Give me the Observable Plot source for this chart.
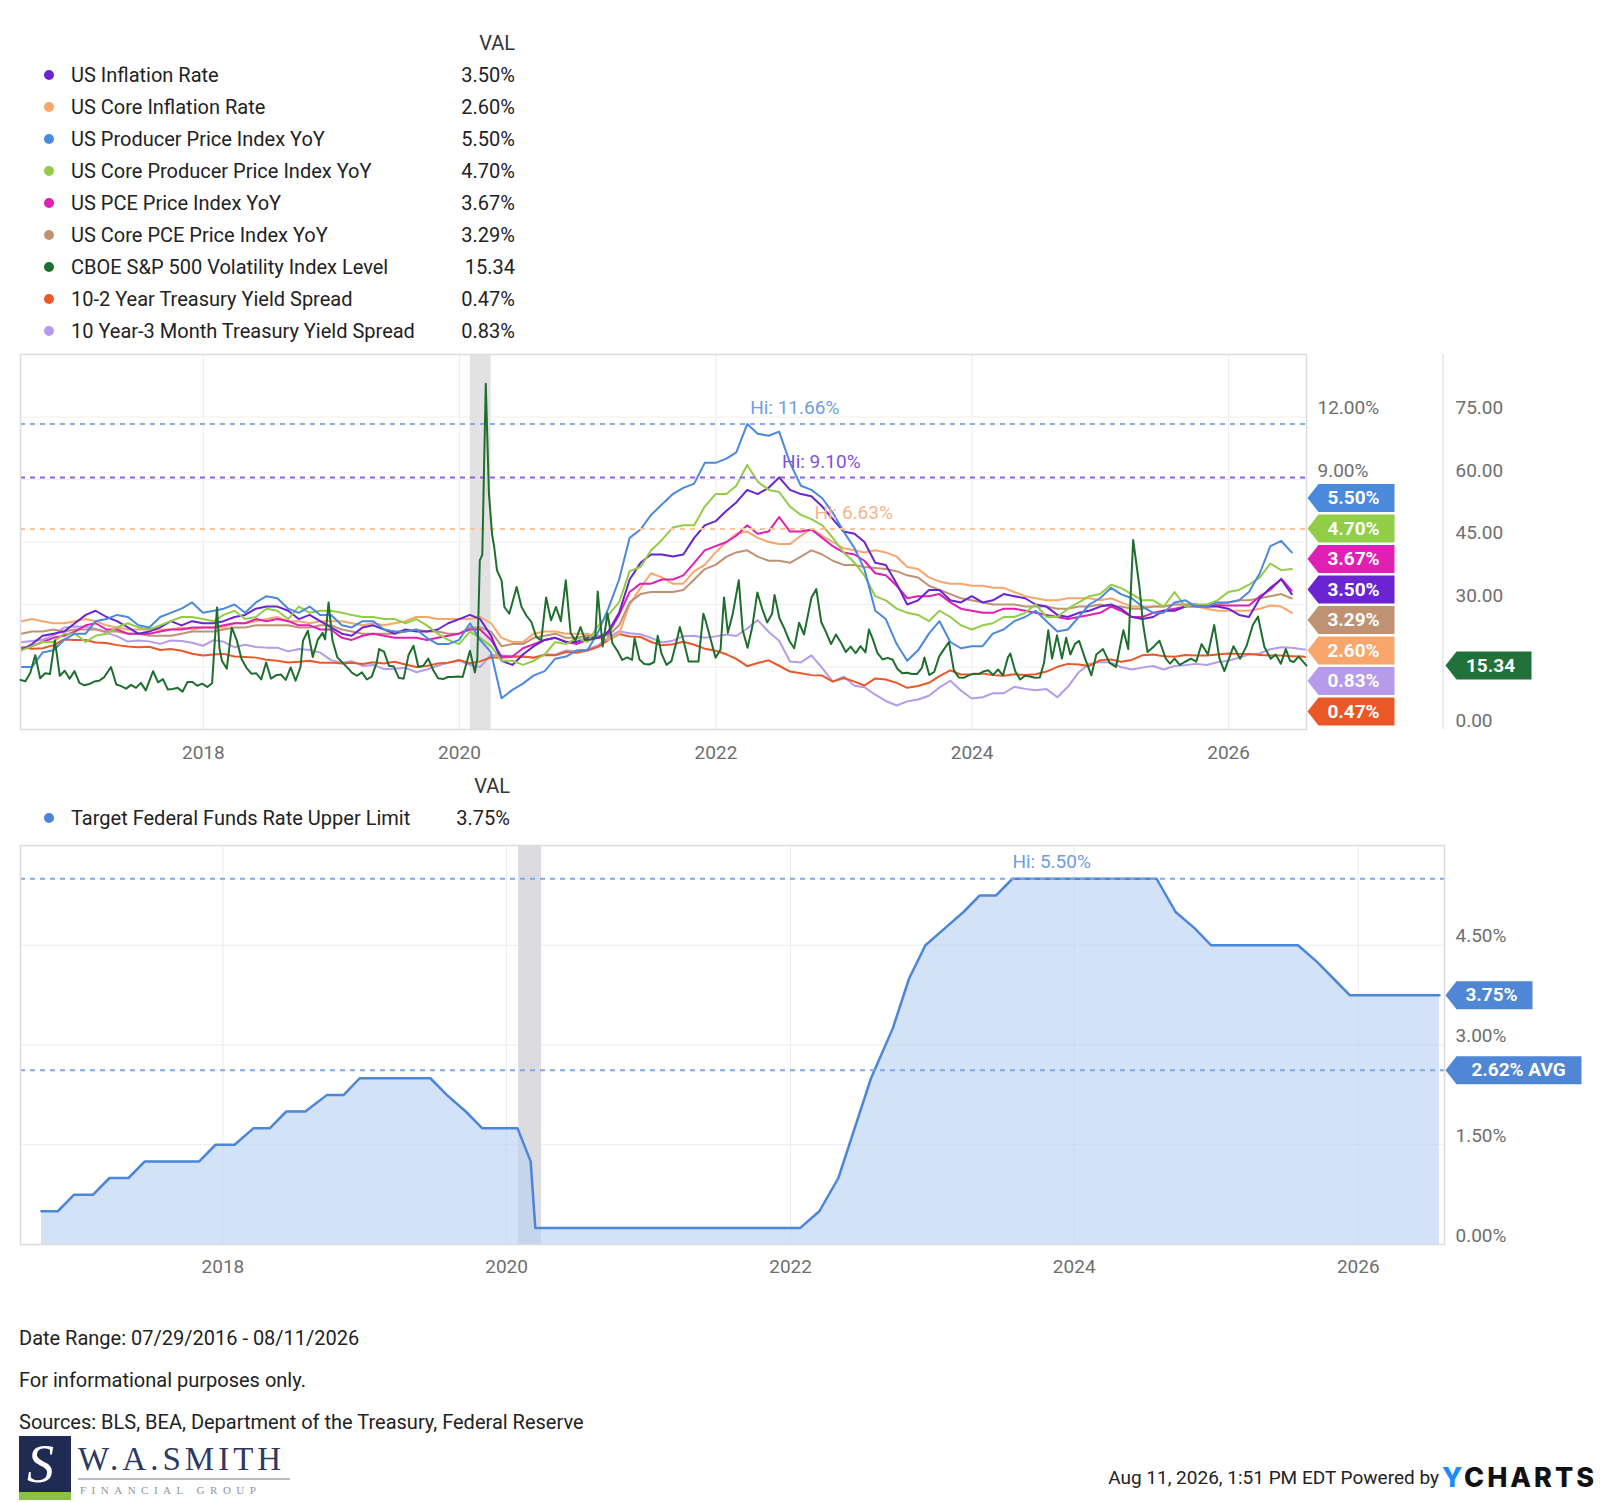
<!DOCTYPE html>
<html>
<head>
<meta charset="utf-8">
<script src="https://cdn.jsdelivr.net/npm/d3@7"></script>
<script src="https://cdn.jsdelivr.net/npm/@observablehq/plot@0.6"></script>
<style>
  html, body { margin: 0; padding: 0; background: #fff; }
  body { width: 1600px; height: 1502px; position: relative; overflow: hidden; font-family: Roboto, "Open Sans", sans-serif; }
  .abs { position: absolute; }
</style>
</head>
<body>
<script>
// ---------------- DATA ----------------
const dateStart = "2016-07-29";
const dateEnd = "2026-08-11";

// monthly YoY series, Jul 2016 .. Jun 2026 (month-end)
const cpi = [
  0.8,1.1,1.5,1.6,1.7,2.1,
  2.5,2.7,2.4,2.2,1.9,1.6,1.7,1.9,2.2,2.0,2.2,2.1,
  2.1,2.2,2.4,2.5,2.8,2.9,2.9,2.7,2.3,2.5,2.2,1.9,
  1.6,1.5,1.9,2.0,1.8,1.6,1.8,1.7,1.7,1.8,2.1,2.3,
  2.5,2.3,1.5,0.3,0.1,0.6,1.0,1.3,1.4,1.2,1.2,1.4,
  1.4,1.7,2.6,4.2,5.0,5.4,5.4,5.3,5.4,6.2,6.8,7.0,
  7.5,7.9,8.5,8.3,8.6,9.1,8.5,8.3,8.2,7.7,7.1,6.5,
  6.4,6.0,5.0,4.9,4.0,3.0,3.2,3.7,3.7,3.2,3.1,3.4,
  3.1,3.2,3.5,3.4,3.3,3.0,2.9,2.5,2.4,2.6,2.7,2.9,
  3.0,2.8,2.4,2.3,2.4,2.7,2.7,2.9,3.0,2.9,2.9,2.8,
  2.5,2.4,3.3,3.8,4.2,3.5
];
const coreCpi = [
  2.2,2.3,2.2,2.1,2.1,2.2,
  2.3,2.2,2.0,1.9,1.8,1.8,1.8,1.8,1.8,1.9,1.8,1.9,
  1.9,1.9,2.1,2.1,2.2,2.3,2.4,2.2,2.2,2.1,2.2,2.2,
  2.2,2.1,2.0,2.1,2.0,2.1,2.2,2.4,2.4,2.3,2.3,2.3,
  2.3,2.4,2.1,1.4,1.2,1.2,1.6,1.7,1.7,1.6,1.6,1.6,
  1.4,1.3,1.6,3.0,3.8,4.5,4.3,4.0,4.0,4.6,4.9,5.5,
  6.0,6.4,6.5,6.2,6.0,5.9,5.9,6.3,6.63,6.3,6.0,5.7,
  5.6,5.5,5.6,5.5,5.3,4.8,4.7,4.3,4.1,4.0,4.0,3.9,
  3.9,3.8,3.8,3.6,3.4,3.3,3.2,3.2,3.3,3.3,3.3,3.2,
  3.3,3.1,2.9,2.9,2.9,2.9,3.0,3.0,2.9,2.8,2.7,2.7,
  2.7,2.7,2.8,2.95,2.9,2.6
];
const ppi = [
  0.0,0.0,0.7,0.8,1.3,1.6,
  1.6,2.2,2.3,2.5,2.4,2.0,1.9,2.4,2.6,2.8,3.1,2.6,
  2.7,2.8,3.0,2.6,3.1,3.4,3.3,2.8,2.6,2.9,2.5,2.5,
  2.0,1.9,2.2,2.2,1.8,1.7,1.7,1.8,1.4,1.1,1.1,1.3,
  2.1,1.3,0.7,-1.5,-1.1,-0.8,-0.4,-0.2,0.4,0.5,0.8,0.8,
  1.7,2.8,4.2,6.2,6.6,7.3,7.8,8.3,8.6,8.8,9.8,9.8,
  10.0,10.3,11.66,11.2,11.1,11.3,9.8,8.7,8.5,8.1,7.4,6.5,
  5.7,4.7,2.7,2.3,1.1,0.3,0.8,1.6,2.2,1.2,0.9,1.0,
  1.0,1.6,1.8,2.2,2.4,2.7,2.2,1.7,1.8,2.4,3.0,3.3,
  3.8,3.5,3.3,2.9,2.6,2.6,3.1,3.2,2.9,2.9,3.1,3.1,
  3.2,3.6,4.5,5.8,6.05,5.5
];
const corePpi = [
  0.8,1.0,1.2,1.2,1.6,1.6,
  1.2,1.5,1.6,1.9,2.1,1.9,1.8,2.0,2.2,2.4,2.4,2.3,
  2.2,2.5,2.7,2.3,2.4,2.8,2.7,2.3,2.9,2.6,2.7,2.7,
  2.6,2.5,2.4,2.4,2.3,2.3,2.1,2.3,2.0,1.6,1.3,1.1,
  1.7,1.4,1.0,0.3,0.3,0.1,0.3,0.6,1.2,1.1,1.4,1.2,
  2.0,2.5,3.1,4.6,4.8,5.6,6.1,6.7,6.8,6.8,7.7,8.3,
  8.3,8.7,9.7,8.9,8.5,8.4,7.7,7.3,7.1,6.8,6.2,5.5,
  5.0,4.4,3.4,3.2,2.8,2.6,2.5,2.2,2.7,2.4,2.0,1.8,
  2.0,2.1,2.4,2.4,2.6,3.0,2.4,2.4,2.8,3.1,3.4,3.5,
  3.95,3.8,3.5,3.2,3.2,2.9,3.6,2.9,3.0,3.0,3.2,3.6,
  3.7,3.95,4.3,4.96,4.65,4.7
];
const pce = [
  0.9,1.0,1.2,1.4,1.5,1.7,
  2.0,2.1,1.8,1.8,1.6,1.6,1.6,1.7,1.8,1.8,1.9,1.9,
  1.9,2.0,2.1,2.1,2.3,2.2,2.3,2.2,2.0,2.0,1.8,1.8,
  1.4,1.3,1.5,1.6,1.5,1.4,1.4,1.4,1.3,1.4,1.5,1.6,
  1.8,1.8,1.3,0.5,0.5,0.9,1.1,1.3,1.4,1.2,1.1,1.3,
  1.4,1.6,2.5,3.6,4.0,4.0,4.2,4.2,4.4,5.0,5.6,5.8,
  6.0,6.3,6.8,6.4,6.5,7.2,6.5,6.5,6.6,6.2,5.8,5.5,
  5.4,5.1,4.5,4.4,3.9,3.3,3.4,3.4,3.5,3.1,2.8,2.7,
  2.6,2.6,2.8,2.8,2.7,2.6,2.5,2.4,2.3,2.4,2.5,2.6,
  2.9,2.7,2.4,2.4,2.6,2.7,2.8,2.9,2.9,2.9,2.95,2.95,
  2.95,2.95,3.4,3.7,4.24,3.67
];
const corePce = [
  1.6,1.7,1.7,1.8,1.7,1.8,
  1.8,1.8,1.7,1.7,1.6,1.6,1.5,1.5,1.5,1.6,1.7,1.7,
  1.7,1.8,1.9,1.9,2.0,2.0,2.0,2.0,1.9,1.9,2.0,2.0,
  1.8,1.7,1.6,1.6,1.6,1.6,1.7,1.8,1.7,1.7,1.6,1.6,
  1.9,1.9,1.7,1.0,1.1,1.1,1.4,1.5,1.6,1.4,1.4,1.5,
  1.5,1.5,2.0,3.1,3.5,3.6,3.6,3.6,3.7,4.2,4.7,4.9,
  5.3,5.5,5.6,5.3,5.1,5.1,5.0,5.3,5.6,5.4,5.1,4.9,
  4.9,4.8,4.75,4.7,4.6,4.4,4.3,3.9,3.7,3.5,3.3,3.2,
  3.1,3.0,3.0,3.0,2.9,2.9,2.9,2.8,2.8,2.9,2.9,3.0,
  2.9,2.9,2.8,2.8,2.9,2.9,3.0,3.0,3.0,2.9,3.0,3.1,
  3.2,3.2,3.3,3.4,3.5,3.29
];
// yield spreads, month-end Jul 2016 .. Jul 2026, then the last day
const spread102 = [
  0.95,0.88,0.90,1.05,1.32,1.30,
  1.30,1.18,1.15,1.05,0.98,0.95,0.97,0.82,0.86,0.78,0.64,0.55,
  0.60,0.63,0.50,0.48,0.45,0.35,0.30,0.22,0.25,0.30,0.20,0.21,
  0.17,0.20,0.14,0.23,0.17,0.25,0.12,0.00,0.05,0.17,0.21,0.34,
  0.18,0.27,0.47,0.44,0.49,0.50,0.44,0.58,0.56,0.72,0.68,0.79,
  0.97,1.29,1.58,1.46,1.44,1.20,1.04,1.09,1.21,1.07,0.88,0.78,
  0.61,0.39,0.04,0.19,0.32,0.06,-0.22,-0.30,-0.39,-0.41,-0.70,-0.53,
  -0.70,-0.89,-0.55,-0.60,-0.76,-1.00,-0.91,-0.76,-0.44,-0.16,-0.36,-0.35,
  -0.31,-0.39,-0.42,-0.35,-0.38,-0.35,-0.22,0.01,0.15,0.12,0.05,0.33,
  0.36,0.25,0.34,0.56,0.60,0.52,0.49,0.58,0.55,0.55,0.60,0.65,
  0.63,0.62,0.58,0.55,0.55,0.52,0.50,
  0.47
];
const spread103m = [
  1.19,1.25,1.31,1.52,1.89,1.94,
  1.93,1.83,1.64,1.48,1.22,1.27,1.23,1.11,1.27,1.25,1.16,1.02,
  1.29,1.21,0.95,1.07,0.96,0.93,0.93,0.75,0.86,0.82,0.69,0.33,
  0.21,0.28,0.05,0.10,-0.10,-0.08,-0.04,-0.25,-0.12,0.06,0.20,0.30,
  0.10,0.00,0.59,0.55,0.52,0.50,0.45,0.61,0.59,0.79,0.76,0.84,
  1.05,1.40,1.72,1.62,1.57,1.40,1.18,1.26,1.48,1.50,1.40,1.47,
  1.56,1.49,1.85,2.25,1.69,1.26,0.26,0.22,0.56,-0.05,-0.70,-0.46,
  -0.90,-0.97,-1.33,-1.63,-1.85,-1.65,-1.56,-1.38,-0.98,-0.66,-1.13,-1.51,
  -1.45,-1.26,-1.26,-0.95,-1.05,-1.12,-1.06,-1.45,-0.95,-0.25,0.15,0.24,
  0.21,0.00,-0.12,-0.03,0.05,-0.12,0.05,0.09,0.15,0.10,0.23,0.30,
  0.45,0.60,0.65,0.85,0.95,0.92,0.85,
  0.83
];
// CBOE VIX level [date, value]
const vix = [
["2016-07-29",11.9],["2016-08-12",11.6],["2016-08-26",13.6],["2016-09-09",17.8],["2016-09-23",12.3],["2016-10-07",13.5],["2016-10-21",13.3],["2016-11-04",21.4],["2016-11-18",12.9],["2016-12-02",14.1],["2016-12-16",12.2],["2016-12-30",14.0],
["2017-01-13",11.2],["2017-01-27",10.6],["2017-02-10",10.9],["2017-02-24",11.5],["2017-03-10",11.7],["2017-03-24",12.5],["2017-04-13",15.0],["2017-04-28",10.8],["2017-05-12",10.4],["2017-05-26",9.8],["2017-06-09",10.7],["2017-06-23",10.0],["2017-07-07",11.2],["2017-07-21",9.4],["2017-08-11",14.0],["2017-08-25",11.3],["2017-09-08",12.1],["2017-09-22",9.6],["2017-10-06",9.7],["2017-10-20",10.0],["2017-11-03",9.1],["2017-11-17",11.4],["2017-12-01",11.4],["2017-12-15",10.5],["2017-12-29",11.0],
["2018-01-12",10.2],["2018-01-26",11.1],["2018-02-09",29.3],["2018-02-16",19.5],["2018-02-23",16.5],["2018-03-09",14.6],["2018-03-23",24.5],["2018-04-06",21.5],["2018-04-20",16.9],["2018-05-04",14.8],["2018-05-18",13.4],["2018-06-01",13.5],["2018-06-15",12.0],["2018-06-29",16.1],["2018-07-13",12.2],["2018-07-27",13.0],["2018-08-10",13.2],["2018-08-24",11.9],["2018-09-07",14.9],["2018-09-21",11.7],["2018-10-05",15.0],["2018-10-12",21.3],["2018-10-26",23.7],["2018-11-09",17.4],["2018-11-23",21.5],["2018-12-07",23.2],["2018-12-14",21.6],["2018-12-24",30.5],
["2019-01-04",21.4],["2019-01-18",17.3],["2019-02-01",16.1],["2019-02-15",14.9],["2019-03-01",13.6],["2019-03-15",12.9],["2019-03-29",13.7],["2019-04-12",12.0],["2019-04-26",12.7],["2019-05-10",16.0],["2019-05-17",19.3],["2019-05-31",18.7],["2019-06-14",15.3],["2019-06-28",15.1],["2019-07-12",12.4],["2019-07-26",12.2],["2019-08-09",17.9],["2019-08-23",20.1],["2019-09-06",15.0],["2019-09-20",15.3],["2019-10-04",17.0],["2019-10-18",14.3],["2019-11-01",12.3],["2019-11-15",12.1],["2019-11-29",12.6],["2019-12-13",12.6],["2019-12-27",12.7],
["2020-01-10",12.6],["2020-01-31",18.9],["2020-02-14",13.7],["2020-02-21",17.1],["2020-02-28",40.6],["2020-03-06",41.9],["2020-03-16",83.0],["2020-03-25",56.6],["2020-04-03",46.8],["2020-04-09",43.8],["2020-04-17",38.2],["2020-04-30",35.8],["2020-05-08",29.4],["2020-05-22",27.8],["2020-06-12",34.2],["2020-06-26",29.4],["2020-07-10",27.3],["2020-07-24",25.8],["2020-08-07",22.2],["2020-08-21",21.4],["2020-09-04",31.7],["2020-09-18",26.2],["2020-10-02",29.4],["2020-10-16",26.0],["2020-10-30",35.8],["2020-11-13",23.1],["2020-11-27",21.4],["2020-12-11",24.6],["2020-12-24",21.5],
["2021-01-08",21.6],["2021-01-22",21.9],["2021-01-29",33.1],["2021-02-12",19.9],["2021-02-26",27.9],["2021-03-12",20.7],["2021-03-26",18.9],["2021-04-09",16.7],["2021-04-23",17.3],["2021-05-07",16.7],["2021-05-14",21.9],["2021-05-28",16.8],["2021-06-11",15.7],["2021-06-25",15.6],["2021-07-09",16.2],["2021-07-19",22.5],["2021-07-30",18.2],["2021-08-13",15.5],["2021-08-27",16.4],["2021-09-10",20.9],["2021-09-20",24.6],["2021-10-01",21.2],["2021-10-15",16.3],["2021-10-29",16.3],["2021-11-12",16.3],["2021-11-26",27.8],["2021-12-03",26.0],["2021-12-17",21.6],["2021-12-31",17.2],
["2022-01-14",19.2],["2022-01-24",31.7],["2022-02-04",23.2],["2022-02-18",27.8],["2022-03-07",35.8],["2022-03-18",23.9],["2022-04-01",19.6],["2022-04-14",24.4],["2022-04-29",32.9],["2022-05-13",28.9],["2022-05-27",25.7],["2022-06-10",27.8],["2022-06-17",32.3],["2022-07-01",26.7],["2022-07-15",24.2],["2022-07-29",21.3],["2022-08-12",19.5],["2022-08-26",25.6],["2022-09-09",22.8],["2022-09-30",31.6],["2022-10-14",33.7],["2022-10-28",25.8],["2022-11-10",23.5],["2022-11-25",20.5],["2022-12-09",22.8],["2022-12-23",20.9],
["2023-01-06",18.6],["2023-01-20",19.9],["2023-02-03",18.3],["2023-02-17",20.0],["2023-03-03",18.5],["2023-03-13",24.0],["2023-03-24",21.7],["2023-04-06",18.4],["2023-04-21",16.8],["2023-05-05",17.2],["2023-05-19",16.8],["2023-06-02",14.6],["2023-06-16",13.5],["2023-06-30",13.6],["2023-07-14",13.3],["2023-07-28",13.3],["2023-08-11",14.8],["2023-08-18",17.3],["2023-09-01",13.1],["2023-09-15",13.8],["2023-09-29",17.5],["2023-10-13",19.3],["2023-10-27",21.0],["2023-11-10",14.2],["2023-11-24",12.5],["2023-12-08",12.4],["2023-12-22",13.0],
["2024-01-05",13.4],["2024-01-19",13.3],["2024-02-02",13.9],["2024-02-16",14.2],["2024-03-01",13.1],["2024-03-15",14.4],["2024-03-29",13.0],["2024-04-12",17.3],["2024-04-19",18.2],["2024-05-03",14.0],["2024-05-17",12.0],["2024-05-31",12.9],["2024-06-14",12.7],["2024-06-28",12.4],["2024-07-12",12.5],["2024-07-24",16.0],["2024-08-05",23.8],["2024-08-16",17.0],["2024-08-30",22.6],["2024-09-13",17.0],["2024-09-25",22.0],["2024-10-07",18.0],["2024-10-20",20.5],["2024-11-01",21.3],["2024-11-18",17.0],["2024-12-06",13.0],["2024-12-20",18.0],
["2025-01-08",19.3],["2025-01-27",16.0],["2025-02-14",15.0],["2025-03-07",23.8],["2025-03-21",19.3],["2025-04-04",45.5],["2025-04-22",34.2],["2025-05-02",25.4],["2025-05-15",18.6],["2025-06-03",20.0],["2025-06-18",21.3],["2025-07-06",17.0],["2025-07-18",15.8],["2025-07-31",17.0],["2025-08-15",15.5],["2025-08-29",16.2],["2025-09-16",17.0],["2025-10-01",16.3],["2025-10-16",20.5],["2025-11-03",18.0],["2025-11-21",25.1],["2025-12-06",17.0],["2025-12-20",14.0],
["2026-01-15",20.0],["2026-02-03",17.0],["2026-02-21",20.0],["2026-03-11",25.1],["2026-03-26",27.1],["2026-04-01",24.6],["2026-04-13",19.8],["2026-05-01",17.0],["2026-05-15",18.0],["2026-05-30",15.8],["2026-06-13",19.3],["2026-06-25",16.5],["2026-07-05",16.2],["2026-07-20",17.5],["2026-08-11",15.34]
];
// Target Federal Funds Rate Upper Limit at each FOMC decision
const fedFunds = [
["2016-09-21",0.50],["2016-11-02",0.50],["2016-12-14",0.75],
["2017-02-01",0.75],["2017-03-15",1.00],["2017-05-03",1.00],["2017-06-14",1.25],["2017-07-26",1.25],["2017-09-20",1.25],["2017-11-01",1.25],["2017-12-13",1.50],
["2018-01-31",1.50],["2018-03-21",1.75],["2018-05-02",1.75],["2018-06-13",2.00],["2018-08-01",2.00],["2018-09-26",2.25],["2018-11-08",2.25],["2018-12-19",2.50],
["2019-01-30",2.50],["2019-03-20",2.50],["2019-05-01",2.50],["2019-06-19",2.50],["2019-07-31",2.25],["2019-09-18",2.00],["2019-10-30",1.75],["2019-12-11",1.75],
["2020-01-29",1.75],["2020-03-03",1.25],["2020-03-15",0.25],["2020-04-29",0.25],["2020-06-10",0.25],["2020-07-29",0.25],["2020-09-16",0.25],["2020-11-05",0.25],["2020-12-16",0.25],
["2021-01-27",0.25],["2021-03-17",0.25],["2021-04-28",0.25],["2021-06-16",0.25],["2021-07-28",0.25],["2021-09-22",0.25],["2021-11-03",0.25],["2021-12-15",0.25],
["2022-01-26",0.25],["2022-03-16",0.50],["2022-05-04",1.00],["2022-06-15",1.75],["2022-07-27",2.50],["2022-09-21",3.25],["2022-11-02",4.00],["2022-12-14",4.50],
["2023-02-01",4.75],["2023-03-22",5.00],["2023-05-03",5.25],["2023-06-14",5.25],["2023-07-26",5.50],["2023-09-20",5.50],["2023-11-01",5.50],["2023-12-13",5.50],
["2024-01-31",5.50],["2024-03-20",5.50],["2024-05-01",5.50],["2024-06-12",5.50],["2024-07-31",5.50],["2024-09-18",5.00],["2024-11-07",4.75],["2024-12-18",4.50],
["2025-01-29",4.50],["2025-03-19",4.50],["2025-05-07",4.50],["2025-06-18",4.50],["2025-07-30",4.50],["2025-09-17",4.25],["2025-10-29",4.00],["2025-12-10",3.75],
["2026-01-28",3.75],["2026-03-18",3.75],["2026-04-29",3.75],["2026-06-17",3.75],["2026-07-29",3.75]
];
const fedFundsAvg = 2.62;
const recessions = [{start: "2020-02-01", end: "2020-03-31"}];
const yearTickLabels = [2018, 2020, 2022, 2024, 2026];
const pctTicks = [9, 12];
const pctGrid = [-3, 0, 3, 6, 9, 12];
const vixTicks = [0, 30, 45, 60, 75];
const fedTicks = [0, 1.5, 3, 4.5];

const topNames = ["US Inflation Rate","US Core Inflation Rate","US Producer Price Index YoY","US Core Producer Price Index YoY","US PCE Price Index YoY","US Core PCE Price Index YoY","CBOE S&P 500 Volatility Index Level","10-2 Year Treasury Yield Spread","10 Year-3 Month Treasury Yield Spread"];
const topColors = ["#6a24d1","#f9a66c","#4a89dc","#92cd48","#e01fb4","#bf9274","#1e6e2e","#ea5828","#b59be9"];
const bottomName = "Target Federal Funds Rate Upper Limit";
const bottomColor = "#4a86d9";

// ---------------- BUILD ----------------
const FONT = "Roboto, 'Open Sans', sans-serif";
const START = new Date(dateStart), END = new Date(dateEnd);
const monthEnd = m => d3.utcDay.offset(d3.utcMonth.offset(m, 1), -1);
const monthlyDates = d3.utcMonth.range(new Date(Date.UTC(2016,6,1)), new Date(Date.UTC(2026,6,1))).map(monthEnd);
const spreadDates = d3.utcMonth.range(new Date(Date.UTC(2016,6,1)), new Date(Date.UTC(2026,7,1))).map(monthEnd).concat([END]);
const rows = (dates, values) => dates.map((date, i) => ({date, value: values[i]}));
const pairRows = pairs => pairs.map(([d, v]) => ({date: new Date(d), value: v}));
const yearTicks = yearTickLabels.map(y => new Date(Date.UTC(y, 0, 1)));
const recRows = recessions.map(r => ({start: new Date(r.start), end: new Date(r.end)}));

const series = [
  {key:"cpi", values: cpi, dates: monthlyDates, hi: "#7f52d8", hiLine: "#8a64da"},
  {key:"coreCpi", values: coreCpi, dates: monthlyDates, hi: "#f6b48a", hiLine: "#f9c3a0"},
  {key:"ppi", values: ppi, dates: monthlyDates, hi: "#6f9de3", hiLine: "#85abe8"},
  {key:"corePpi", values: corePpi, dates: monthlyDates},
  {key:"pce", values: pce, dates: monthlyDates},
  {key:"corePce", values: corePce, dates: monthlyDates},
  {key:"vix"},
  {key:"s102", values: spread102, dates: spreadDates},
  {key:"s103", values: spread103m, dates: spreadDates}
];
series.forEach((s, i) => { s.name = topNames[i]; s.color = topColors[i]; if (s.values) s.rows = rows(s.dates, s.values); });
const vixRows = pairRows(vix);
series[6].rows = vixRows;
const fedRows = pairRows(fedFunds);

const fmt2 = d3.format(".2f");
const lastVal = s => s.rows[s.rows.length - 1].value;

// Layout of the two chart panels (SVG size and margins)
const T = {width: 1600, height: 430, top: 340, mt: 14, mb: 41, ml: 20, mr: 294};
const B = {width: 1600, height: 460, top: 830, mt: 15, mb: 46, ml: 20, mr: 156};

const flagShape = w => ({draw(ctx) { ctx.moveTo(0, 0); ctx.lineTo(11, -14); ctx.lineTo(w, -14); ctx.lineTo(w, 14); ctx.lineTo(11, 14); ctx.closePath(); }});

// stacked value flags on the right of the top panel
const pctSeries = series.filter(s => s.key !== "vix");
const yPct = d3.scaleLinear([-3, 15], [T.height - T.mb, T.mt]);
function stackFlags(items, spacing, maxPx, scale) {
  const s = items.map(d => ({...d, py: scale(d.value)})).sort((a, b) => a.py - b.py);
  for (let i = 1; i < s.length; i++) s[i].py = Math.max(s[i].py, s[i - 1].py + spacing);
  if (s[s.length - 1].py > maxPx) {
    s[s.length - 1].py = maxPx;
    for (let i = s.length - 2; i >= 0; i--) s[i].py = Math.min(s[i].py, s[i + 1].py - spacing);
  }
  s.forEach(d => d.ys = scale.invert(d.py));
  return s;
}
const topFlags = stackFlags(pctSeries.map(s => ({value: lastVal(s), label: fmt2(lastVal(s)) + "%", color: s.color})), 30.5, T.height - T.mb - 18, yPct);

const hiRows = series.filter(s => s.hi).map(s => {
  const i = d3.maxIndex(s.values);
  return {date: s.dates[i], value: s.values[i], color: s.hi, line: s.hiLine};
});

const drawOrder = ["s103", "s102", "coreCpi", "corePce", "pce", "cpi", "corePpi", "ppi"];
const lineMarks = drawOrder.map(k => { const s = series.find(d => d.key === k); return Plot.line(s.rows, {x: "date", y: "value", stroke: s.color, strokeWidth: 2}); });

const baseStyle = {background: "transparent", fontFamily: FONT, fontSize: "19px", color: "#6e6e6e", overflow: "visible"};

const topPlot = Plot.plot({
  width: T.width, height: T.height, marginTop: T.mt, marginBottom: T.mb, marginLeft: T.ml, marginRight: T.mr,
  style: baseStyle,
  x: {type: "utc", domain: [START, END], axis: null},
  y: {domain: [-3, 15], axis: null},
  marks: [
    Plot.ruleY(pctGrid, {stroke: "#eeeef0"}),
    Plot.ruleX(yearTicks, {stroke: "#eeeef3"}),
    Plot.rect(recRows, {x1: "start", x2: "end", fill: "#e2e2e4"}),
    ...lineMarks,
    ...hiRows.map(h => Plot.ruleY([h.value], {stroke: h.line, strokeWidth: 2, strokeDasharray: "5,5"})),
    Plot.text(hiRows, {x: "date", y: "value", text: d => "Hi: " + fmt2(d.value) + "%", fill: "color", textAnchor: "start", dx: 3, dy: -16, fontSize: 19}),
    Plot.frame({stroke: "#dcdcdc", strokeWidth: 1.5}),
    Plot.axisX({ticks: yearTicks, tickFormat: "%Y", tickSize: 0, tickPadding: 16, fontSize: 19, label: null}),
    Plot.axisY({anchor: "right", ticks: pctTicks, tickFormat: d => fmt2(d) + "%", tickSize: 0, tickPadding: 11, dy: -9, fontSize: 19, label: null}),
    Plot.dot(topFlags, {y: "ys", frameAnchor: "right", dx: 1, symbol: flagShape(87), r: 4, fill: "color", stroke: "none"}),
    Plot.text(topFlags, {y: "ys", frameAnchor: "right", dx: 47, text: "label", fill: "white", fontWeight: "bold", fontSize: 19, textAnchor: "middle"})
  ]
});

const vixLast = [vixRows[vixRows.length - 1]];
const vixPlot = Plot.plot({
  width: T.width, height: T.height, marginTop: T.mt, marginBottom: T.mb, marginLeft: T.ml, marginRight: T.mr,
  style: baseStyle,
  x: {type: "utc", domain: [START, END], axis: null},
  y: {domain: [0, 90], axis: null},
  marks: [
    Plot.line(vixRows, {x: "date", y: "value", stroke: series[6].color, strokeWidth: 2}),
    Plot.axisY({anchor: "right", ticks: vixTicks, tickFormat: d => fmt2(d), tickSize: 0, tickPadding: 149, dy: -9, fontSize: 19, label: null}),
    Plot.dot(vixLast, {y: "value", frameAnchor: "right", dx: 139, symbol: flagShape(86), r: 4, fill: "#22703a", stroke: "none"}),
    Plot.text(vixLast, {y: "value", frameAnchor: "right", dx: 184, text: d => fmt2(d.value), fill: "white", fontWeight: "bold", fontSize: 19, textAnchor: "middle"})
  ]
});

const fedHiIdx = d3.maxIndex(fedRows, d => d.value);
const fedHi = [fedRows[fedHiIdx]];
const fedLast = [fedRows[fedRows.length - 1]];
const fedAvgRow = [{value: fedFundsAvg}];
const bottomPlot = Plot.plot({
  width: B.width, height: B.height, marginTop: B.mt, marginBottom: B.mb, marginLeft: B.ml, marginRight: B.mr,
  style: baseStyle,
  x: {type: "utc", domain: [START, END], axis: null},
  y: {domain: [0, 6], axis: null},
  marks: [
    Plot.ruleY(fedTicks.slice(1), {stroke: "#ebebee"}),
    Plot.ruleX(yearTicks, {stroke: "#ebebf0"}),
    Plot.rect(recRows, {x1: "start", x2: "end", fill: "#dcdce0"}),
    Plot.areaY(fedRows, {x: "date", y: "value", fill: "#b8cff3", fillOpacity: 0.6}),
    Plot.line(fedRows, {x: "date", y: "value", stroke: bottomColor, strokeWidth: 2.5}),
    Plot.ruleY(fedHi, {y: "value", stroke: "#80a8e6", strokeWidth: 2, strokeDasharray: "5,5"}),
    Plot.ruleY(fedAvgRow, {y: "value", stroke: "#80a8e6", strokeWidth: 2, strokeDasharray: "5,5"}),
    Plot.text(fedHi, {x: "date", y: "value", text: d => "Hi: " + fmt2(d.value) + "%", fill: "#6f9de3", textAnchor: "start", dy: -17, fontSize: 19}),
    Plot.frame({stroke: "#dcdcdc", strokeWidth: 1.5}),
    Plot.axisX({ticks: yearTicks, tickFormat: "%Y", tickSize: 0, tickPadding: 15, fontSize: 19, label: null}),
    Plot.axisY({anchor: "right", ticks: fedTicks, tickFormat: d => fmt2(d) + "%", tickSize: 0, tickPadding: 11, dy: -9, fontSize: 19, label: null}),
    Plot.dot(fedLast, {y: "value", frameAnchor: "right", dx: 1, symbol: flagShape(87), r: 4, fill: "#4f86d6", stroke: "none"}),
    Plot.text(fedLast, {y: "value", frameAnchor: "right", dx: 47, text: d => fmt2(d.value) + "%", fill: "white", fontWeight: "bold", fontSize: 19, textAnchor: "middle"}),
    Plot.dot(fedAvgRow, {y: "value", frameAnchor: "right", dx: 1, symbol: flagShape(136), r: 4, fill: "#4f86d6", stroke: "none"}),
    Plot.text(fedAvgRow, {y: "value", frameAnchor: "right", dx: 74, text: d => fmt2(d.value) + "% AVG", fill: "white", fontWeight: "bold", fontSize: 19, textAnchor: "middle"})
  ]
});

// ---------------- PLACE ----------------
function place(el, top) {
  const wrap = document.createElement("div");
  wrap.className = "abs"; wrap.style.left = "0px"; wrap.style.top = top + "px"; wrap.style.width = "1600px";
  wrap.appendChild(el); document.body.appendChild(wrap);
}
place(topPlot, T.top);
place(vixPlot, T.top);
place(bottomPlot, B.top);

function txt(s, o) {
  const d = document.createElement("div");
  d.textContent = s;
  Object.assign(d.style, {position: "absolute", whiteSpace: "nowrap", fontFamily: o.family || FONT, fontSize: (o.size || 20) + "px",
    color: o.color || "#222", fontWeight: o.weight || 400, lineHeight: "24px", top: (o.cy - 12) + "px", letterSpacing: o.ls || "normal"});
  if (o.left != null) d.style.left = o.left + "px";
  if (o.right != null) d.style.right = (1600 - o.right) + "px";
  document.body.appendChild(d);
  return d;
}
function dot(cx, cy, color) {
  const d = document.createElement("div");
  Object.assign(d.style, {position: "absolute", left: (cx - 5) + "px", top: (cy - 5) + "px", width: "10px", height: "10px", borderRadius: "50%", background: color});
  document.body.appendChild(d);
}
function box(l, t, w, h, bg) {
  const d = document.createElement("div");
  Object.assign(d.style, {position: "absolute", left: l + "px", top: t + "px", width: w + "px", height: h + "px", background: bg});
  document.body.appendChild(d);
  return d;
}

// top legend
txt("VAL", {right: 515, cy: 43, color: "#333"});
series.forEach((s, i) => {
  const cy = 74.5 + 32 * i;
  dot(49, cy, s.color);
  txt(s.name, {left: 71, cy});
  const v = lastVal(s);
  txt(fmt2(v) + (s.key === "vix" ? "" : "%"), {right: 515, cy});
});
// faint right boundary of the top panel
box(1442, 354, 1.5, 375, "#ececee");

// bottom legend
txt("VAL", {right: 510, cy: 786, color: "#333"});
dot(49, 818, bottomColor);
txt(bottomName, {left: 71, cy: 818});
txt(fmt2(fedLast[0].value) + "%", {right: 510, cy: 818});

// footer
txt("Date Range: " + d3.utcFormat("%m/%d/%Y")(START) + " - " + d3.utcFormat("%m/%d/%Y")(END), {left: 19, cy: 1338});
txt("For informational purposes only.", {left: 19, cy: 1380});
txt("Sources: BLS, BEA, Department of the Treasury, Federal Reserve", {left: 19, cy: 1422});

// logo
box(19, 1436, 52, 56, "#1f2b52");
const sMark = txt("S", {left: 27, cy: 1462, size: 54, color: "#ffffff", family: "'Liberation Serif', 'DejaVu Serif', serif"});
sMark.style.fontStyle = "italic"; sMark.style.lineHeight = "56px"; sMark.style.top = "1436px";
box(19, 1492, 52, 8, "#8cbf45");
txt("W.A.SMITH", {left: 78, cy: 1459, size: 33, color: "#2e3963", family: "'Liberation Serif', 'DejaVu Serif', serif", ls: "4px"});
box(78, 1478, 212, 1.5, "#b9bcc6");
txt("FINANCIAL GROUP", {left: 80, cy: 1490, size: 11, color: "#8f94a0", family: "'Liberation Serif', 'DejaVu Serif', serif", ls: "5.5px"});

// powered by
txt("Aug 11, 2026, 1:51 PM EDT Powered by", {right: 1439, cy: 1478, size: 19});
const yc = document.createElement("div");
Object.assign(yc.style, {position: "absolute", left: "1442px", top: "1463px", fontFamily: "Inter, Roboto, sans-serif", fontWeight: 800, fontSize: "27px", letterSpacing: "3px", lineHeight: "30px", color: "#111"});
yc.innerHTML = '<span style="color:#1a8cff">Y</span>CHARTS';
document.body.appendChild(yc);
</script>
</body>
</html>
